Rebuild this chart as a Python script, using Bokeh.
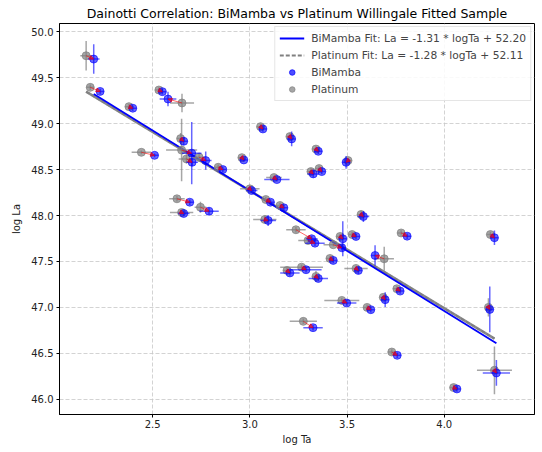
import numpy as np
from bokeh.plotting import figure
from bokeh.models import (ColumnDataSource, Arrow, NormalHead, FixedTicker,
                          PrintfTickFormatter, Range1d, Legend, LegendItem)
from bokeh.embed import file_html
from bokeh.resources import INLINE

# ---- data ----
pt_x = [2.158, 2.179, 2.532, 2.651, 2.378, 2.644, 2.649, 2.674, 2.739, 2.442,
        2.837, 3.000, 2.959, 2.625, 2.746, 2.649, 3.055, 3.206, 3.340, 3.505,
        3.356, 3.314, 3.124, 3.082, 3.155, 3.077, 3.572, 3.237, 3.299, 3.429,
        3.464, 3.526, 3.778, 4.237, 3.691, 3.412, 3.546, 3.266, 3.191, 3.340,
        3.756, 3.473, 3.686, 3.603, 4.227, 3.275, 3.730, 4.258, 4.048]
pt_y = [49.739, 49.395, 49.366, 49.225, 49.185, 48.837, 48.712, 48.616, 48.634, 48.688,
        48.525, 48.290, 48.630, 48.182, 48.090, 48.033, 48.967, 48.859, 48.723, 48.598,
        48.511, 48.478, 48.413, 48.174, 48.109, 47.957, 48.011, 47.845, 47.728, 47.682,
        47.772, 47.793, 47.810, 47.793, 47.529, 47.533, 47.424, 47.438, 47.402, 47.337,
        47.203, 47.076, 47.109, 47.000, 47.000, 46.848, 46.514, 46.315, 46.127]
pt_xerr = [0.03, 0.02, 0.02, 0.062, 0.02, 0.02, 0.08, 0.04, 0.03, 0.05,
           0.02, 0.05, 0.02, 0.04, 0.03, 0.06, 0.02, 0.02, 0.02, 0.02,
           0.02, 0.02, 0.04, 0.02, 0.02, 0.06, 0.02, 0.05, 0.05, 0.05,
           0.02, 0.02, 0.02, 0.02, 0.05, 0.02, 0.06, 0.11, 0.02, 0.02,
           0.02, 0.09, 0.02, 0.02, 0.02, 0.07, 0.02, 0.09, 0.02]
pt_yerr = [0.16, 0.03, 0.03, 0.10, 0.03, 0.06, 0.34, 0.05, 0.05, 0.02,
           0.03, 0.03, 0.02, 0.03, 0.06, 0.03, 0.03, 0.04, 0.03, 0.03,
           0.03, 0.04, 0.02, 0.03, 0.03, 0.04, 0.04, 0.03, 0.03, 0.02,
           0.03, 0.03, 0.03, 0.03, 0.13, 0.03, 0.03, 0.03, 0.03, 0.06,
           0.03, 0.03, 0.03, 0.03, 0.10, 0.03, 0.03, 0.26, 0.03]

bm_x = [2.197, 2.230, 2.550, 2.579, 2.398, 2.660, 2.701, 2.703, 2.773, 2.510,
        2.861, 3.009, 2.969, 2.691, 2.790, 2.660, 3.067, 3.215, 3.352, 3.495,
        3.370, 3.326, 3.139, 3.106, 3.175, 3.094, 3.584, 3.318, 3.335, 3.473,
        3.478, 3.546, 3.809, 4.258, 3.644, 3.429, 3.558, 3.289, 3.206, 3.352,
        3.773, 3.498, 3.696, 3.622, 4.234, 3.325, 3.758, 4.268, 4.065]
bm_y = [49.703, 49.351, 49.348, 49.268, 49.168, 48.808, 48.679, 48.579, 48.598, 48.655,
        48.500, 48.272, 48.605, 48.145, 48.047, 48.022, 48.942, 48.834, 48.699, 48.579,
        48.478, 48.453, 48.391, 48.145, 48.084, 47.946, 47.989, 47.747, 47.699, 47.649,
        47.747, 47.772, 47.775, 47.758, 47.565, 47.511, 47.402, 47.410, 47.375, 47.315,
        47.177, 47.047, 47.084, 46.975, 46.978, 46.779, 46.478, 46.286, 46.112]
bm_xerr = [0.03, 0.02, 0.02, 0.043, 0.02, 0.02, 0.05, 0.03, 0.03, 0.02,
           0.02, 0.03, 0.02, 0.02, 0.05, 0.03, 0.02, 0.02, 0.02, 0.02,
           0.02, 0.03, 0.065, 0.02, 0.02, 0.04, 0.03, 0.03, 0.05, 0.02,
           0.02, 0.02, 0.02, 0.02, 0.02, 0.02, 0.02, 0.08, 0.05, 0.05,
           0.02, 0.05, 0.02, 0.02, 0.02, 0.05, 0.02, 0.07, 0.02]
bm_yerr = [0.16, 0.03, 0.03, 0.08, 0.03, 0.04, 0.34, 0.04, 0.10, 0.02,
           0.03, 0.03, 0.02, 0.03, 0.04, 0.03, 0.03, 0.08, 0.03, 0.07,
           0.03, 0.04, 0.02, 0.03, 0.03, 0.06, 0.06, 0.03, 0.03, 0.03,
           0.19, 0.03, 0.03, 0.08, 0.11, 0.03, 0.04, 0.03, 0.03, 0.03,
           0.03, 0.03, 0.08, 0.03, 0.25, 0.03, 0.03, 0.14, 0.03]

fit_names = ["BiMamba", "Platinum"]
fit_slope = [-1.31, -1.28]
fit_intercept = [52.20, 52.11]

x_ticks = [2.5, 3.0, 3.5, 4.0]
y_ticks = [46.0, 46.5, 47.0, 47.5, 48.0, 48.5, 49.0, 49.5, 50.0]

BLUE = "blue"
GRAY = "gray"
FONT = "DejaVu Sans"
NAN = [float("nan")]

p = figure(width=542, height=452, output_backend="svg", toolbar_location=None,
           x_range=Range1d(2.021, 4.464), y_range=Range1d(45.834, 50.09),
           min_border_left=59, min_border_right=8, min_border_top=23, min_border_bottom=38)

p.title.text = "Dainotti Correlation: BiMamba vs Platinum Willingale Fitted Sample"
p.title.align = "center"
p.title.text_font = FONT
p.title.text_font_size = "12.5px"
p.title.text_font_style = "normal"
p.title.text_color = "black"
p.title.standoff = 5

p.outline_line_color = "black"
p.outline_line_width = 1

for ax, ticks in ((p.xaxis, x_ticks), (p.yaxis, y_ticks)):
    ax.ticker = FixedTicker(ticks=ticks)
    ax.formatter = PrintfTickFormatter(format="%.1f")
    ax.major_tick_out = 3
    ax.major_tick_in = 0
    ax.minor_tick_line_color = None
    ax.major_label_text_font = FONT
    ax.major_label_text_font_size = "10px"
    ax.major_label_text_color = "#222222"
    ax.axis_label_text_font = FONT
    ax.axis_label_text_font_size = "10px"
    ax.axis_label_text_font_style = "normal"
    ax.axis_label_text_color = "#222222"
    ax.axis_line_color = "black"
    ax.major_tick_line_color = "black"
p.xaxis.major_label_standoff = 2
p.xaxis.axis_label_standoff = 3
p.yaxis.major_label_standoff = 3
p.yaxis.axis_label_standoff = 6
p.xaxis.axis_label = "log Ta"
p.yaxis.axis_label = "log La"

p.grid.grid_line_color = "#c8c8c8"
p.grid.grid_line_dash = "4 2"
p.grid.grid_line_alpha = 0.8

# fit lines
lx_pt = np.array([min(pt_x), max(pt_x)])
lx_bm = np.array([min(bm_x), max(bm_x)])
p.line(lx_pt, fit_slope[1] * lx_pt + fit_intercept[1], line_color=GRAY, line_width=2.6, line_alpha=0.9)
pt_dash = p.line(lx_pt, fit_slope[1] * lx_pt + fit_intercept[1], line_color=GRAY,
                 line_width=1.8, line_dash="4 2")
bm_line = p.line(lx_bm, fit_slope[0] * lx_bm + fit_intercept[0], line_color=BLUE, line_width=1.8)

# error bars + markers
def draw_series(x, y, xe, ye, col, alpha):
    x = np.array(x); y = np.array(y); xe = np.array(xe); ye = np.array(ye)
    p.segment(x - xe, y, x + xe, y, line_color=col, line_width=1.5, line_alpha=alpha)
    p.segment(x, y - ye, x, y + ye, line_color=col, line_width=1.5, line_alpha=alpha)
    return p.scatter(x, y, size=8, marker="circle", fill_color=col, line_color=col,
                     fill_alpha=alpha, line_alpha=alpha)

draw_series(pt_x, pt_y, pt_xerr, pt_yerr, GRAY, 0.7)
draw_series(bm_x, bm_y, bm_xerr, bm_yerr, BLUE, 0.6)

# arrows from Platinum to BiMamba
arr_src = ColumnDataSource(dict(x0=pt_x, y0=pt_y, x1=bm_x, y1=bm_y))
p.add_layout(Arrow(end=NormalHead(size=4, fill_color="red", line_color="red",
                                  fill_alpha=0.6, line_alpha=0.6),
                   x_start="x0", y_start="y0", x_end="x1", y_end="y1",
                   source=arr_src, line_color="red", line_alpha=0.6, line_width=1))

# legend proxies (NaN data, not drawn in the plot)
lg_bm_c = p.scatter(NAN, NAN, marker="circle", size=8, fill_color=BLUE, line_color=BLUE, fill_alpha=0.7, line_alpha=0.7)
lg_pt_c = p.scatter(NAN, NAN, marker="circle", size=8, fill_color=GRAY, line_color=GRAY, fill_alpha=0.7, line_alpha=0.7)

legend = Legend(items=[
    LegendItem(label="BiMamba Fit: La = %.2f * logTa + %.2f" % (fit_slope[0], fit_intercept[0]), renderers=[bm_line]),
    LegendItem(label="Platinum Fit: La = %.2f * logTa + %.2f" % (fit_slope[1], fit_intercept[1]), renderers=[pt_dash]),
    LegendItem(label=fit_names[0], renderers=[lg_bm_c]),
    LegendItem(label=fit_names[1], renderers=[lg_pt_c]),
], location="top_right")
legend.label_text_font = FONT
legend.label_text_font_size = "10.7px"
legend.label_height = 14
legend.glyph_height = 14
legend.glyph_width = 25
legend.label_standoff = 7
legend.spacing = 3
legend.padding = 4
legend.margin = 3
legend.border_line_color = "#cccccc"
legend.background_fill_alpha = 0.85
p.add_layout(legend)

open("out.html", "w").write(file_html(p, INLINE))
